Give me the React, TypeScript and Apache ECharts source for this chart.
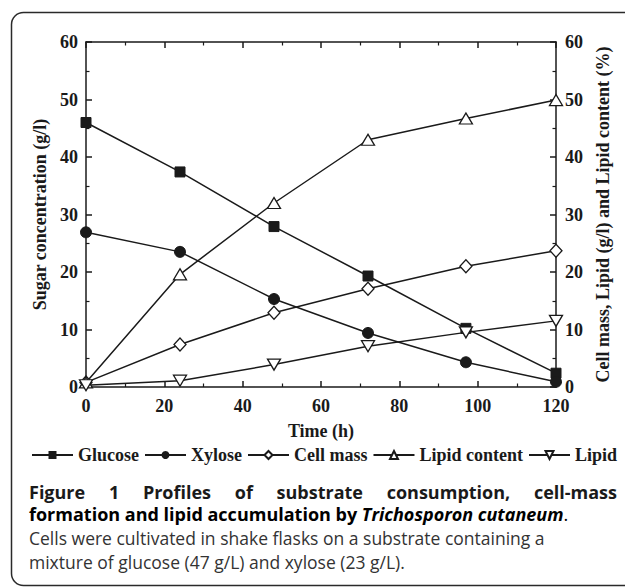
import React, { useEffect, useRef } from "react";
import * as echarts from "echarts";

const times = [0, 24, 48, 72, 97, 120];
const glucose = [46, 37.4, 27.9, 19.3, 10.2, 2.4];
const xylose = [26.9, 23.5, 15.3, 9.4, 4.3, 0.9];
const cellMass = [0.8, 7.4, 12.9, 17.1, 21, 23.7];
const lipidContent = [0.8, 19.6, 32, 43, 46.7, 49.9];
const lipid = [0.3, 1.1, 3.9, 7.1, 9.5, 11.5];

const seriesNames = ["Glucose", "Xylose", "Cell mass", "Lipid content", "Lipid"];
const xTicks = { min: 0, max: 120, interval: 20 };
const yTicks = { min: 0, max: 60, interval: 10 };

const captionLine1 = ["Figure", "1", "Profiles", "of", "substrate", "consumption,", "cell-mass"];
const captionLine2a = "formation and lipid accumulation by ";
const captionLine2b = "Trichosporon cutaneum";
const captionLine3 = "Cells were cultivated in shake flasks on a substrate containing a";
const captionLine4 = "mixture of glucose (47 g/L) and xylose (23 g/L).";

const SERIF = '"Liberation Serif", "Times New Roman", serif';
const SANS = '"Open Sans", "Noto Sans", sans-serif';
const INK = "#1a1a1a";

function pairs(vals: number[]) {
  return times.map((t, i) => [t, vals[i]]);
}

const lbl = () => ({ fontFamily: SERIF, fontWeight: "bold", fontSize: 18, color: INK });
const aLine = () => ({ show: true, onZero: false, lineStyle: { color: INK, width: 1.5 } });
const aTick = () => ({ show: true, inside: true, length: 6, lineStyle: { color: INK, width: 1.5 } });
const mTick = () => ({ show: true, splitNumber: 2, length: 3.5, lineStyle: { color: INK, width: 1.2 } });

export default function App() {
  const ref = useRef<HTMLDivElement>(null);
  useEffect(() => {
    if (!ref.current) return;
    const chart = echarts.init(ref.current, null, { renderer: "svg" });

    const cv = document.createElement("canvas").getContext("2d")!;
    const measure = (t: string, font: string) => {
      cv.font = font;
      return cv.measureText(t).width;
    };
    const x0 = 29;
    const boldSize = 18;
    const regSize = 17.5;
    const capBold = `bold ${boldSize}px ${SANS}`;

    const widths = captionLine1.map((w) => measure(w, capBold));
    const x1 = 617;
    const total = widths.reduce((a, b) => a + b, 0);
    const gap = (x1 - x0 - total) / (captionLine1.length - 1);
    let cx = x0;
    const line1 = captionLine1.map((w, i) => {
      const el = {
        type: "text",
        x: cx,
        y: 492,
        style: { text: w, font: capBold, fill: INK, verticalAlign: "middle", align: "left", lineHeight: 20 },
      };
      cx += widths[i] + gap;
      return el;
    });

    const lineCommon = {
      type: "line",
      lineStyle: { color: INK, width: 1.5 },
      clip: false,
    };

    chart.setOption({
      animation: false,
      backgroundColor: "#fff",
      grid: { left: 86, right: 69, top: 42, bottom: 201, containLabel: false },
      xAxis: [
        {
          type: "value",
          ...xTicks,
          position: "bottom",
          axisLine: aLine(),
          axisTick: aTick(),
          minorTick: mTick(),
          splitLine: { show: false },
          axisLabel: { ...lbl(), margin: 10 },
          name: "Time (h)",
          nameLocation: "middle",
          nameGap: 35,
          nameTextStyle: lbl(),
        },
        {
          type: "value",
          ...xTicks,
          position: "top",
          axisLine: aLine(),
          axisTick: aTick(),
          minorTick: mTick(),
          splitLine: { show: false },
          axisLabel: { show: false },
        },
      ],
      yAxis: [
        {
          type: "value",
          ...yTicks,
          position: "left",
          axisLine: aLine(),
          axisTick: aTick(),
          minorTick: mTick(),
          splitLine: { show: false },
          axisLabel: { ...lbl(), margin: 8 },
          name: "Sugar concentration (g/l)",
          nameLocation: "middle",
          nameGap: 36,
          nameTextStyle: lbl(),
        },
        {
          type: "value",
          ...yTicks,
          position: "right",
          axisLine: aLine(),
          axisTick: aTick(),
          minorTick: mTick(),
          splitLine: { show: false },
          axisLabel: { ...lbl(), margin: 9 },
          name: "Cell mass, Lipid (g/l) and Lipid content (%)",
          nameLocation: "middle",
          nameGap: 31,
          nameTextStyle: lbl(),
        },
      ],
      legend: {
        left: 31,
        top: 446,
        width: 600,
        padding: 0,
        itemWidth: 41,
        itemHeight: 10,
        itemGap: 5,
        textStyle: lbl(),
        data: seriesNames,
      },
      series: [
        {
          ...lineCommon,
          name: seriesNames[0],
          yAxisIndex: 0,
          data: pairs(glucose),
          symbol: "rect",
          symbolSize: 10,
          itemStyle: { color: INK, borderColor: INK },
        },
        {
          ...lineCommon,
          name: seriesNames[1],
          yAxisIndex: 0,
          data: pairs(xylose),
          symbol: "circle",
          symbolSize: 11,
          itemStyle: { color: INK, borderColor: INK },
        },
        {
          ...lineCommon,
          name: seriesNames[2],
          yAxisIndex: 1,
          data: pairs(cellMass),
          symbol: "diamond",
          symbolSize: [12, 13],
          itemStyle: { color: "#fff", borderColor: INK, borderWidth: 1.3 },
        },
        {
          ...lineCommon,
          name: seriesNames[3],
          yAxisIndex: 1,
          data: pairs(lipidContent),
          symbol: "triangle",
          symbolSize: [13, 11],
          itemStyle: { color: "#fff", borderColor: INK, borderWidth: 1.3 },
        },
        {
          ...lineCommon,
          name: seriesNames[4],
          yAxisIndex: 1,
          data: pairs(lipid),
          symbol: "path://M0,0L20,0L10,17Z",
          symbolSize: [13, 11],
          itemStyle: { color: "#fff", borderColor: INK, borderWidth: 1.3 },
        },
      ],
      graphic: [
        {
          type: "rect",
          z: -1,
          shape: { x: 11.5, y: 12.5, width: 700, height: 573, r: 12 },
          style: { fill: "none", stroke: "#2a2a2a", lineWidth: 1.5 },
        },
        ...line1,
        {
          type: "text",
          x: x0,
          y: 514,
          style: {
            text: `{b|${captionLine2a}}{bi|${captionLine2b}}{r|.}`,
            verticalAlign: "middle",
            rich: {
              b: { fontFamily: SANS, fontWeight: "bold", fontSize: boldSize, color: INK, lineHeight: 20 },
              bi: { fontFamily: SANS, fontWeight: "bold", fontStyle: "italic", fontSize: boldSize, color: INK, lineHeight: 20 },
              r: { fontFamily: SANS, fontSize: boldSize, color: INK, lineHeight: 20 },
            },
          },
        },
        {
          type: "text",
          x: x0,
          y: 538,
          style: { text: captionLine3, font: `${regSize}px ${SANS}`, fill: "#333", verticalAlign: "middle", lineHeight: 20 },
        },
        {
          type: "text",
          x: x0,
          y: 562,
          style: { text: captionLine4, font: `${regSize}px ${SANS}`, fill: "#333", verticalAlign: "middle", lineHeight: 20 },
        },
      ],
    });
    return () => chart.dispose();
  }, []);
  return (
    <div
      ref={ref}
      style={{ position: "absolute", left: 0, top: 0, width: 625, height: 588, background: "#fff" }}
    />
  );
}
